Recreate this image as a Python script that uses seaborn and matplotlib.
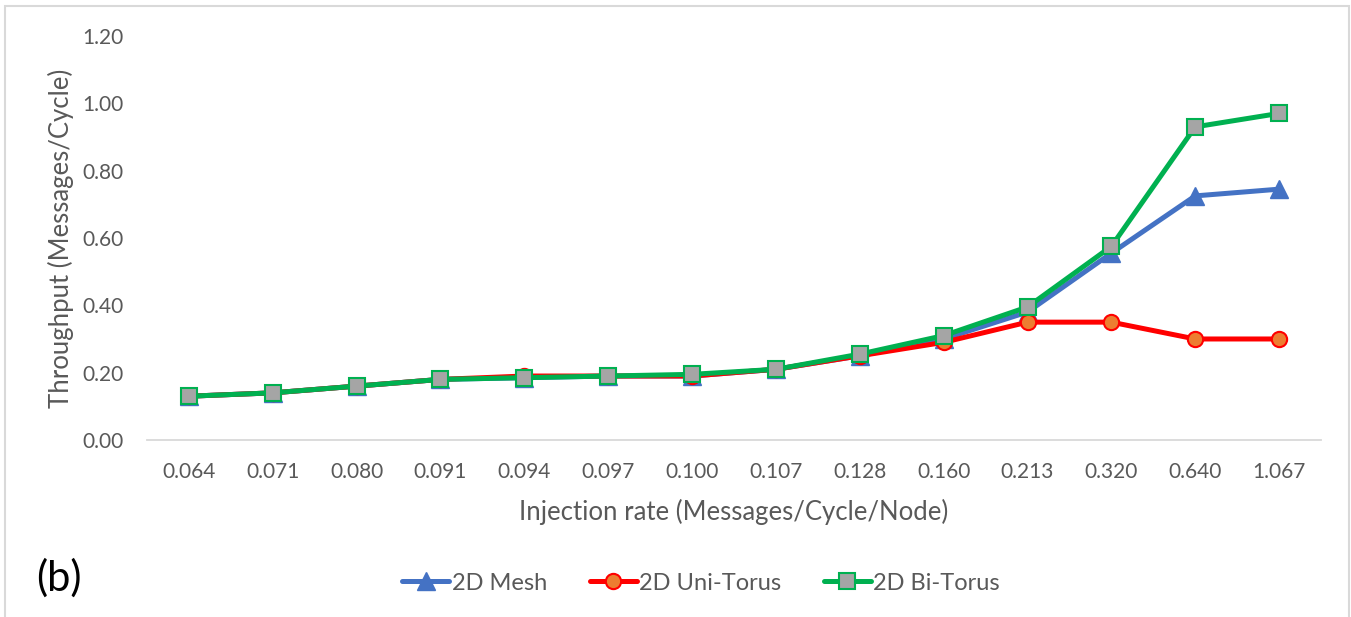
import matplotlib
matplotlib.use("Agg")
import matplotlib.pyplot as plt
from matplotlib.patches import Rectangle
from matplotlib.lines import Line2D
import seaborn as sns
import pandas as pd

# Injection rates (categorical axis) and measured throughput per topology
injection_rates = ["0.064", "0.071", "0.080", "0.091", "0.094", "0.097", "0.100",
                   "0.107", "0.128", "0.160", "0.213", "0.320", "0.640", "1.067"]
mesh_2d = [0.13, 0.14, 0.16, 0.18, 0.185, 0.19, 0.19, 0.21, 0.25, 0.30, 0.38, 0.555, 0.725, 0.745]
uni_torus_2d = [0.13, 0.14, 0.16, 0.18, 0.19, 0.19, 0.19, 0.21, 0.25, 0.29, 0.35, 0.35, 0.30, 0.30]
bi_torus_2d = [0.13, 0.14, 0.16, 0.18, 0.185, 0.19, 0.195, 0.21, 0.255, 0.31, 0.395, 0.575, 0.93, 0.97]
y_ticks = [0.0, 0.2, 0.4, 0.6, 0.8, 1.0, 1.2]

sns.set_theme(style="white")
plt.rcParams["font.family"] = ["Lato", "DejaVu Sans"]

fig = plt.figure(figsize=(13.51, 6.17), dpi=100)
ax = fig.add_axes([0.1088, 0.2869, 0.869, 0.6548])

df = pd.DataFrame({
    "rate": injection_rates,
    "2D Mesh": mesh_2d,
    "2D Uni-Torus": uni_torus_2d,
    "2D Bi-Torus": bi_torus_2d,
})

series_styles = [
    ("2D Mesh", dict(color="#4472C4", marker="^", markersize=13,
                     markerfacecolor="#4472C4", markeredgecolor="#4472C4", markeredgewidth=1)),
    ("2D Uni-Torus", dict(color="#FF0000", marker="o", markersize=11,
                          markerfacecolor="#ED7D31", markeredgecolor="#FF0000", markeredgewidth=1.5)),
    ("2D Bi-Torus", dict(color="#00B050", marker="s", markersize=11,
                         markerfacecolor="#A5A5A5", markeredgecolor="#00B050", markeredgewidth=1.5)),
]

line_width = 3.6
handles = []
for name, style in series_styles:
    sns.lineplot(data=df, x="rate", y=name, ax=ax, linewidth=line_width,
                 sort=False, legend=False, **style)
    handles.append(Line2D([], [], linewidth=line_width, label=name, **style))

ax.set_xlim(-0.5, len(injection_rates) - 0.5)
ax.set_ylim(0, 1.2)
ax.set_yticks(y_ticks)
ax.set_yticklabels([f"{v:.2f}" for v in y_ticks])

for side in ["top", "right", "left"]:
    ax.spines[side].set_visible(False)
ax.spines["bottom"].set_color("#D9D9D9")
ax.spines["bottom"].set_linewidth(1.3)
ax.tick_params(axis="both", length=0, labelsize=15, colors="#595959")
ax.tick_params(axis="x", pad=16)
ax.tick_params(axis="y", pad=17)

ax.set_xlabel("Injection rate (Messages/Cycle/Node)", fontsize=18.5, color="#595959", labelpad=12)
ax.set_ylabel("Throughput (Messages/Cycle)", fontsize=18.5, color="#595959", labelpad=6)

leg = ax.legend(handles=handles, loc="center", bbox_to_anchor=(0.472, -0.354), ncol=3,
                frameon=False, fontsize=17, handlelength=2.0, columnspacing=1.8,
                handletextpad=0.1)
for t in leg.get_texts():
    t.set_color("#595959")

fig.text(0.027, 0.063, "(b)", fontsize=30, color="black", ha="left", va="center")

fig.patches.append(Rectangle((5 / 1351, -0.05), 1344 / 1351, 1.05 - 6 / 617,
                             transform=fig.transFigure, fill=False,
                             edgecolor="#D9D9D9", linewidth=1.5))

fig.savefig("out.png", dpi=100)
